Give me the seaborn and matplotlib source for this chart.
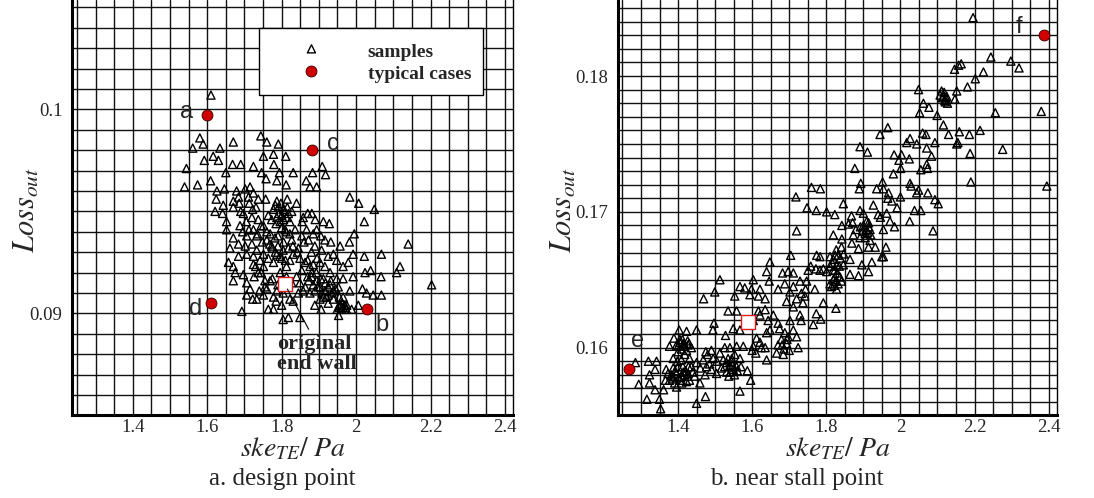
import matplotlib
matplotlib.use("Agg")
import matplotlib.pyplot as plt
import seaborn as sns
from matplotlib.ticker import MultipleLocator, FuncFormatter

sns.set_style("white")
plt.rcParams['font.family'] = ['Liberation Serif', 'DejaVu Serif']
plt.rcParams['mathtext.fontset'] = 'stix'

# ---------------- data: a. design point ----------------
# upper scatter (above Loss 0.096)
da_x_top = [1.610, 1.580, 1.561, 1.589, 1.670, 1.634, 1.592, 1.616, 1.630, 1.544, 1.539, 1.574,
            1.609, 1.650, 1.668, 1.690, 1.744, 1.760, 1.791, 1.751, 1.778, 1.811, 1.724, 1.746,
            1.779, 1.794, 1.831, 1.758, 1.787, 1.812, 1.866, 1.883, 1.909, 1.918, 1.876, 1.894]
da_y_top = [0.1007, 0.0986, 0.0981, 0.0983, 0.0984, 0.0981, 0.0975, 0.0977, 0.0975, 0.0971, 0.0962, 0.0963,
            0.0965, 0.0969, 0.0973, 0.0973, 0.0987, 0.0984, 0.0983, 0.0977, 0.0978, 0.0977, 0.0972, 0.0969,
            0.0973, 0.0969, 0.0969, 0.0966, 0.0965, 0.0963, 0.0965, 0.0969, 0.0972, 0.0968, 0.0962, 0.0962]
# middle band and right tail
da_x_mid = [1.626, 1.646, 1.679, 1.702, 1.624, 1.643, 1.621, 1.641, 1.670, 1.686, 1.711, 1.713,
            1.731, 1.757, 1.787, 1.815, 1.840, 1.983, 2.007, 2.049, 2.022, 1.881, 1.858, 1.912,
            1.928, 1.867, 1.885, 1.905, 1.932, 1.957, 1.982, 1.995, 2.140, 2.068, 2.022, 2.118,
            2.109, 2.203, 2.068, 2.039, 2.067, 2.024, 1.992, 2.017, 2.028, 2.046]
da_y_mid = [0.0960, 0.0961, 0.0960, 0.0961, 0.0956, 0.0953, 0.0950, 0.0949, 0.0952, 0.0954, 0.0957, 0.0954,
            0.0952, 0.0956, 0.0955, 0.0956, 0.0954, 0.0957, 0.0954, 0.0951, 0.0945, 0.0949, 0.0947, 0.0945,
            0.0944, 0.0941, 0.0939, 0.0938, 0.0935, 0.0933, 0.0935, 0.0939, 0.0934, 0.0929, 0.0928, 0.0923,
            0.0920, 0.0914, 0.0909, 0.0921, 0.0918, 0.0920, 0.0918, 0.0912, 0.0910, 0.0909]
# lower part
da_x_low = [1.652, 1.652, 1.670, 1.684, 1.706, 1.733, 1.706, 1.661, 1.657, 1.675, 1.697, 1.670,
            1.706, 1.726, 1.737, 1.724, 1.706, 1.722, 1.733, 1.751, 1.778, 1.785, 1.778, 1.764,
            1.800, 1.693, 1.804, 1.818, 1.849, 1.831, 1.845, 1.858, 1.876, 1.889, 1.906, 1.925,
            1.939, 1.955, 1.961, 1.974, 1.988, 2.006, 1.953, 1.965, 1.983, 1.952, 1.948, 1.965,
            1.930, 1.916, 1.903]
da_y_low = [0.0945, 0.0941, 0.0937, 0.0934, 0.0938, 0.0938, 0.0929, 0.0932, 0.0925, 0.0920, 0.0919, 0.0916,
            0.0915, 0.0918, 0.0920, 0.0924, 0.0909, 0.0907, 0.0907, 0.0909, 0.0908, 0.0906, 0.0902, 0.0902,
            0.0904, 0.0901, 0.0897, 0.0898, 0.0898, 0.0906, 0.0910, 0.0911, 0.0910, 0.0904, 0.0902, 0.0905,
            0.0907, 0.0903, 0.0902, 0.0902, 0.0902, 0.0904, 0.0899, 0.0908, 0.0911, 0.0913, 0.0917, 0.0917,
            0.0920, 0.0923, 0.0925]
# dense core
da_x_core = [1.778, 1.791, 1.804, 1.818, 1.800, 1.787, 1.813, 1.827, 1.773, 1.796, 1.764, 1.822,
             1.751, 1.769, 1.760, 1.782, 1.773, 1.751, 1.764, 1.787, 1.804, 1.800, 1.778, 1.751,
             1.813, 1.827, 1.831, 1.822, 1.845, 1.849, 1.863, 1.854, 1.876, 1.881, 1.894, 1.872,
             1.903, 1.889, 1.916, 1.930, 1.925, 1.939, 1.840, 1.827, 1.849, 1.863, 1.813, 1.796,
             1.769, 1.755, 1.787, 1.804, 1.822, 1.903, 1.912, 1.958, 1.964, 1.970, 1.949]
da_y_core = [0.0951, 0.0952, 0.0951, 0.0949, 0.0948, 0.0947, 0.0947, 0.0950, 0.0946, 0.0945, 0.0948, 0.0945,
             0.0943, 0.0939, 0.0936, 0.0937, 0.0933, 0.0929, 0.0927, 0.0929, 0.0931, 0.0927, 0.0925, 0.0923,
             0.0923, 0.0936, 0.0929, 0.0926, 0.0932, 0.0927, 0.0925, 0.0921, 0.0923, 0.0920, 0.0916, 0.0916,
             0.0913, 0.0911, 0.0911, 0.0914, 0.0909, 0.0911, 0.0918, 0.0915, 0.0915, 0.0913, 0.0918, 0.0920,
             0.0916, 0.0913, 0.0911, 0.0910, 0.0907, 0.0907, 0.0908, 0.0904, 0.0903, 0.0904, 0.0902]
# extra points around the core
da_x_side = [1.715, 1.724, 1.737, 1.684, 1.670, 1.697, 1.720, 1.737, 1.724, 1.688, 1.702, 1.720,
             1.733, 1.724, 1.742, 1.684, 1.670, 1.894, 1.916, 1.939, 1.948, 1.965, 1.979, 1.992,
             1.925, 1.907, 1.889, 1.872, 1.854, 1.836, 1.822, 1.809]
da_y_side = [0.0962, 0.0959, 0.0956, 0.0957, 0.0955, 0.0949, 0.0947, 0.0946, 0.0941, 0.0943, 0.0933, 0.0934,
             0.0931, 0.0928, 0.0926, 0.0928, 0.0923, 0.0941, 0.0936, 0.0929, 0.0926, 0.0923, 0.0925, 0.0929,
             0.0928, 0.0931, 0.0933, 0.0936, 0.0938, 0.0941, 0.0939, 0.0941]
# overlapping points in the darkest areas
da_x_pack = [1.783, 1.798, 1.809, 1.792, 1.815, 1.805, 1.785, 1.800, 1.812, 1.790,
             1.775, 1.790, 1.805, 1.818, 1.795, 1.810, 1.783, 1.768, 1.830, 1.842,
             1.880, 1.893, 1.905, 1.918, 1.898, 1.912, 1.925, 1.935, 1.908, 1.920,
             1.885, 1.870, 1.932, 1.945, 1.955, 1.962, 1.968, 1.975, 1.955, 1.690,
             1.705, 1.722, 1.745, 1.735, 1.712, 1.695, 1.748, 1.760, 1.730, 1.745,
             1.755, 1.715, 1.740, 1.760, 1.790, 1.775, 1.855, 1.870, 1.890, 1.860,
             1.880, 1.870, 1.895, 1.885]
da_y_pack = [0.0953, 0.0954, 0.0950, 0.0949, 0.0952, 0.0946, 0.0944, 0.0942, 0.0940, 0.0938,
             0.0932, 0.0933, 0.0935, 0.0932, 0.0928, 0.0926, 0.0930, 0.0934, 0.0933, 0.0930,
             0.0918, 0.0920, 0.0917, 0.0915, 0.0913, 0.0917, 0.0913, 0.0910, 0.0910, 0.0908,
             0.0914, 0.0918, 0.0916, 0.0912, 0.0908, 0.0905, 0.0902, 0.0904, 0.0904, 0.0950,
             0.0945, 0.0951, 0.0943, 0.0939, 0.0941, 0.0940, 0.0935, 0.0940, 0.0923, 0.0920,
             0.0916, 0.0912, 0.0911, 0.0912, 0.0914, 0.0917, 0.0945, 0.0949, 0.0946, 0.0935,
             0.0930, 0.0926, 0.0927, 0.0924]

da_typ_x = [1.600, 2.030, 1.882, 1.610]
da_typ_y = [0.0997, 0.0902, 0.0980, 0.0905]
da_typ_lab = ['a', 'b', 'c', 'd']
da_orig_x = [1.808]
da_orig_y = [0.09146]

# ---------------- data: b. near stall point ----------------
ns_x_top = [2.196, 2.244, 2.298, 2.320, 2.224, 2.202, 2.181, 2.164, 2.146, 2.157, 2.152, 2.147,
            2.111, 2.116, 2.120, 2.127, 2.107, 2.123, 2.049, 2.062, 2.077, 2.052, 2.099, 2.256,
            2.380, 2.116, 2.130, 2.159, 2.186, 2.215, 2.060, 2.069, 2.026, 2.017, 2.044, 2.071,
            2.093, 2.152, 2.155, 2.188, 2.276, 1.983, 2.003, 1.996, 2.024, 2.084, 2.071, 2.073,
            2.055, 2.001, 1.981, 2.190, 2.395]
ns_y_top = [0.1843, 0.1814, 0.1811, 0.1806, 0.1803, 0.1798, 0.1792, 0.1809, 0.1805, 0.1808, 0.1789, 0.1783,
            0.1789, 0.1785, 0.1782, 0.1780, 0.1786, 0.1784, 0.1790, 0.1780, 0.1777, 0.1773, 0.1771, 0.1773,
            0.1774, 0.1764, 0.1757, 0.1759, 0.1757, 0.1760, 0.1758, 0.1757, 0.1754, 0.1751, 0.1750, 0.1747,
            0.1751, 0.1750, 0.1751, 0.1743, 0.1746, 0.1742, 0.1742, 0.1738, 0.1739, 0.1741, 0.1735, 0.1732,
            0.1731, 0.1732, 0.1728, 0.1722, 0.1719]
ns_x_up = [1.945, 1.966, 1.891, 1.911, 1.877, 1.893, 1.889, 1.952, 1.954, 1.936, 1.968, 1.966,
           1.977, 1.991, 2.000, 2.029, 2.044, 2.074, 2.093, 2.102, 2.038, 2.055, 2.025, 2.088]
ns_y_up = [0.1757, 0.1762, 0.1748, 0.1744, 0.1732, 0.1721, 0.1717, 0.1722, 0.1717, 0.1717, 0.1714, 0.1710,
           0.1708, 0.1703, 0.1711, 0.1719, 0.1714, 0.1714, 0.1709, 0.1706, 0.1701, 0.1701, 0.1693, 0.1686]
ns_x_mid = [1.760, 1.784, 1.718, 1.748, 1.773, 1.801, 1.823, 1.846, 1.720, 1.868,
            1.871, 1.891, 1.900, 1.927, 1.940, 1.946, 1.963, 1.972, 1.984, 1.954,
            1.909, 1.914, 1.918, 1.905, 1.918, 1.891, 1.873, 1.860, 1.842, 1.819,
            1.842, 1.869, 1.887, 1.914, 1.932, 1.961, 1.950, 1.954, 1.923, 1.896,
            1.914, 1.887, 1.864, 1.846, 1.864, 1.832, 1.819, 1.810, 1.823, 1.837,
            1.819, 1.814, 1.828, 1.826, 1.841, 1.801, 1.792, 1.783, 1.772, 1.758,
            1.751, 1.774, 1.783]
ns_y_mid = [0.1718, 0.1717, 0.1711, 0.1703, 0.1701, 0.1700, 0.1698, 0.1706, 0.1686, 0.1697,
            0.1692, 0.1701, 0.1699, 0.1705, 0.1698, 0.1696, 0.1699, 0.1693, 0.1689, 0.1687,
            0.1693, 0.1689, 0.1687, 0.1684, 0.1679, 0.1681, 0.1683, 0.1691, 0.1690, 0.1683,
            0.1680, 0.1677, 0.1673, 0.1674, 0.1674, 0.1674, 0.1667, 0.1667, 0.1663, 0.1661,
            0.1656, 0.1653, 0.1654, 0.1661, 0.1665, 0.1668, 0.1665, 0.1660, 0.1657, 0.1652,
            0.1650, 0.1645, 0.1643, 0.1629, 0.1649, 0.1656, 0.1658, 0.1657, 0.1658, 0.1660,
            0.1657, 0.1668, 0.1667]
ns_x_low = [1.747, 1.769, 1.744, 1.742, 1.737, 1.792, 1.773, 1.785, 1.765, 1.729,
            1.732, 1.711, 1.693, 1.702, 1.711, 1.704, 1.682, 1.670, 1.648, 1.639,
            1.646, 1.621, 1.603, 1.598, 1.580, 1.567, 1.594, 1.617, 1.635, 1.617,
            1.621, 1.603, 1.635, 1.648, 1.639, 1.621, 1.612, 1.603, 1.635, 1.639,
            1.576, 1.558, 1.549, 1.567, 1.558, 1.553, 1.535, 1.513, 1.499, 1.469,
            1.497, 1.494, 1.528, 1.450]
ns_y_low = [0.1649, 0.1643, 0.1643, 0.1638, 0.1633, 0.1633, 0.1625, 0.1621, 0.1617, 0.1624,
            0.1620, 0.1630, 0.1634, 0.1641, 0.1655, 0.1668, 0.1655, 0.1643, 0.1663, 0.1656,
            0.1649, 0.1643, 0.1650, 0.1643, 0.1644, 0.1645, 0.1639, 0.1638, 0.1636, 0.1627,
            0.1624, 0.1620, 0.1628, 0.1613, 0.1611, 0.1604, 0.1607, 0.1601, 0.1600, 0.1591,
            0.1601, 0.1601, 0.1614, 0.1613, 0.1627, 0.1638, 0.1627, 0.1650, 0.1641, 0.1636,
            0.1618, 0.1613, 0.1609, 0.1613]
ns_x_base = [1.423, 1.403, 1.389, 1.377, 1.405, 1.414, 1.427, 1.436, 1.400, 1.418,
             1.431, 1.409, 1.387, 1.368, 1.382, 1.396, 1.405, 1.391, 1.377, 1.414,
             1.427, 1.436, 1.450, 1.445, 1.423, 1.459, 1.473, 1.477, 1.468, 1.475,
             1.490, 1.495, 1.490, 1.504, 1.517, 1.522, 1.513, 1.526, 1.531, 1.540,
             1.544, 1.549, 1.558, 1.567, 1.553, 1.540, 1.587, 1.596, 1.567, 1.474,
             1.450, 1.350, 1.353, 1.316, 1.294, 1.323, 1.338, 1.323, 1.338, 1.320,
             1.342, 1.285, 1.366, 1.361]
ns_y_base = [0.1612, 0.1613, 0.1607, 0.1601, 0.1604, 0.1601, 0.1602, 0.1600, 0.1597, 0.1595,
             0.1592, 0.1591, 0.1592, 0.1584, 0.1580, 0.1581, 0.1576, 0.1574, 0.1576, 0.1582,
             0.1581, 0.1586, 0.1589, 0.1579, 0.1575, 0.1574, 0.1580, 0.1586, 0.1591, 0.1597,
             0.1598, 0.1592, 0.1584, 0.1581, 0.1585, 0.1591, 0.1596, 0.1600, 0.1582, 0.1586,
             0.1590, 0.1584, 0.1586, 0.1592, 0.1595, 0.1600, 0.1583, 0.1576, 0.1568, 0.1564,
             0.1559, 0.1562, 0.1555, 0.1562, 0.1573, 0.1574, 0.1569, 0.1580, 0.1584, 0.1590,
             0.1590, 0.1589, 0.1576, 0.1569]
ns_x_dense = [1.405, 1.415, 1.423, 1.430, 1.409, 1.396, 1.387, 1.400, 1.409, 1.418,
              1.431, 1.387, 1.396, 1.373, 1.531, 1.535, 1.547, 1.526, 1.679, 1.688,
              1.693, 1.684, 1.697, 1.670, 1.674, 1.711, 1.720, 1.724, 1.666, 1.702,
              1.643, 1.657, 1.670, 1.711, 1.733, 1.720, 1.729, 1.688, 1.697, 1.810,
              1.817, 1.823, 1.810, 1.821, 1.832, 1.835, 1.847, 1.827, 1.841, 1.880,
              1.892, 1.900, 1.914, 1.907, 2.026, 2.049]
ns_y_dense = [0.1606, 0.1603, 0.1598, 0.1603, 0.1599, 0.1602, 0.1585, 0.1586, 0.1579, 0.1580,
              0.1576, 0.1577, 0.1571, 0.1581, 0.1589, 0.1592, 0.1587, 0.1586, 0.1606, 0.1611,
              0.1603, 0.1595, 0.1608, 0.1602, 0.1614, 0.1613, 0.1608, 0.1600, 0.1596, 0.1620,
              0.1620, 0.1624, 0.1618, 0.1645, 0.1640, 0.1636, 0.1649, 0.1647, 0.1656, 0.1667,
              0.1662, 0.1652, 0.1647, 0.1646, 0.1647, 0.1660, 0.1669, 0.1672, 0.1674, 0.1687,
              0.1689, 0.1690, 0.1692, 0.1687, 0.1721, 0.1716]
ns_x_pack = [1.392, 1.402, 1.413, 1.420, 1.428, 1.440, 1.398, 1.385, 1.410, 1.425,
             1.418, 1.412, 1.426, 1.400, 1.541, 1.552, 1.560, 1.537, 1.545, 1.570,
             1.686, 1.694, 1.681, 1.700, 1.825, 1.830, 1.818, 1.828, 1.838, 1.824,
             1.905, 1.912, 1.898, 1.920, 2.118, 2.125, 2.113, 2.121, 1.460, 1.485,
             1.505, 1.480, 1.600, 1.625, 1.610]
ns_y_pack = [0.1583, 0.1578, 0.1586, 0.1583, 0.1586, 0.1582, 0.1590, 0.1579, 0.1574, 0.1579,
             0.1602, 0.1606, 0.1605, 0.1601, 0.1582, 0.1580, 0.1583, 0.1579, 0.1592, 0.1586,
             0.1599, 0.1606, 0.1602, 0.1598, 0.1649, 0.1655, 0.1657, 0.1661, 0.1666, 0.1668,
             0.1681, 0.1685, 0.1686, 0.1683, 0.1788, 0.1785, 0.1784, 0.1781, 0.1585, 0.1588,
             0.1590, 0.1595, 0.1598, 0.1600, 0.1596]

ns_typ_x = [1.268, 2.387]
ns_typ_y = [0.1584, 0.1830]
ns_typ_lab = ['e', 'f']
ns_orig_x = [1.590]
ns_orig_y = [0.1619]

da_x = da_x_top + da_x_mid + da_x_low + da_x_core + da_x_side + da_x_pack
da_y = da_y_top + da_y_mid + da_y_low + da_y_core + da_y_side + da_y_pack
ns_x = ns_x_top + ns_x_up + ns_x_mid + ns_x_low + ns_x_base + ns_x_dense + ns_x_pack
ns_y = ns_y_top + ns_y_up + ns_y_mid + ns_y_low + ns_y_base + ns_y_dense + ns_y_pack

RED = '#d10000'


def label_every(step):
    def f(v, pos):
        k = v / step
        if abs(k - round(k)) < 1e-6:
            return '%g' % round(v, 4)
        return ''
    return FuncFormatter(f)


def style_axes(ax, xlim, ylim):
    ax.set_xlim(*xlim)
    ax.set_ylim(*ylim)
    ax.xaxis.set_major_locator(MultipleLocator(0.2))
    ax.xaxis.set_major_formatter(FuncFormatter(lambda v, p: '%g' % round(v, 3)))
    ax.xaxis.set_minor_locator(MultipleLocator(0.05))
    ax.yaxis.set_major_locator(MultipleLocator(0.005))
    ax.yaxis.set_major_formatter(label_every(0.01))
    ax.yaxis.set_minor_locator(MultipleLocator(0.001))
    ax.grid(True, which='both', color='#111111', lw=1.0)
    ax.set_axisbelow(True)
    ax.spines['top'].set_visible(False)
    ax.spines['left'].set_linewidth(2.2)
    ax.spines['bottom'].set_linewidth(2.2)
    ax.spines['right'].set_linewidth(1.0)
    for s in ax.spines.values():
        s.set_color('black')
    ax.tick_params(which='major', direction='in', length=6, width=1.2, labelsize=13.5)
    ax.tick_params(axis='x', which='major', pad=3)
    ax.tick_params(axis='y', which='major', pad=7)
    ax.tick_params(which='minor', direction='in', length=0)


def draw_panel(ax, sx, sy, tx, ty, ox, oy):
    sns.scatterplot(x=sx, y=sy, ax=ax, marker='^', s=34, facecolor='none',
                    edgecolor='black', linewidth=1.0, label='samples', zorder=3)
    sns.scatterplot(x=tx, y=ty, ax=ax, marker='o', s=62, color=RED,
                    edgecolor='#330000', linewidth=0.6, label='typical cases', zorder=4)
    sns.scatterplot(x=ox, y=oy, ax=ax, marker='s', s=90, facecolor='white',
                    edgecolor='#e02020', linewidth=1.0, legend=False, zorder=5)


fig = plt.figure(figsize=(10.94, 4.98), dpi=100)
ax1 = fig.add_axes([72 / 1094, 83 / 498, 441 / 1094, 415 / 498])
ax2 = fig.add_axes([618 / 1094, 83 / 498, 439 / 1094, 415 / 498])

draw_panel(ax1, da_x, da_y, da_typ_x, da_typ_y, da_orig_x, da_orig_y)
draw_panel(ax2, ns_x, ns_y, ns_typ_x, ns_typ_y, ns_orig_x, ns_orig_y)

style_axes(ax1, (1.2365, 2.4217), (0.08502, 0.10536))
style_axes(ax2, (1.238, 2.4225), (0.15504, 0.18560))

# letters next to typical cases
lab_kw = dict(fontsize=17, family=['Liberation Sans', 'DejaVu Sans'], va='baseline', ha='left', zorder=6)
da_lab_pos = [(1.527, 0.09956), (2.053, 0.08913), (1.921, 0.09801), (1.550, 0.08992)]
for lab, (lx, ly) in zip(da_typ_lab, da_lab_pos):
    ax1.text(lx, ly, lab, **lab_kw)
ns_lab_pos = [(1.274, 0.16007), (2.310, 0.18314)]
for lab, (lx, ly) in zip(ns_typ_lab, ns_lab_pos):
    ax2.text(lx, ly, lab, **lab_kw)

# original end wall annotation
ax1.annotate('', xy=(da_orig_x[0] + 0.004, da_orig_y[0] - 0.00015), xytext=(1.876, 0.0891),
             arrowprops=dict(arrowstyle='-', lw=0.8, color='black'), zorder=6)
ax1.text(1.788, 0.08900, 'original\nend wall', fontsize=16, fontweight='bold',
         va='top', ha='left', linespacing=1.0, zorder=6)

# legend
leg = ax1.legend(loc='upper right', bbox_to_anchor=(483 / 1094, 1 - 28 / 498),
                 bbox_transform=fig.transFigure, borderaxespad=0, frameon=True,
                 fancybox=False, edgecolor='black', framealpha=1,
                 prop={'weight': 'bold', 'size': 14}, handlelength=4.2, handleheight=1.3,
                 handletextpad=0.8, borderpad=0.6, labelspacing=0.05, scatterpoints=1)
leg.get_frame().set_linewidth(1.0)
if ax2.get_legend() is not None:
    ax2.get_legend().remove()

# axis labels
for ax, ylx in ((ax1, -0.068), (ax2, -0.09)):
    ax.set_xlabel(r'$ske_{TE}/\ Pa$', fontsize=20)
    ax.xaxis.set_label_coords(0.5, -0.05)
    ax.set_ylabel(r'$Loss_{out}$', fontsize=22)
    ax.yaxis.set_label_coords(ylx, 0.494)

fig.text(282 / 1094, 1 - 485 / 498, 'a. design point', ha='center', va='baseline', fontsize=18)
fig.text(797 / 1094, 1 - 485 / 498, 'b. near stall point', ha='center', va='baseline', fontsize=18)

fig.savefig('out.png', dpi=100)
